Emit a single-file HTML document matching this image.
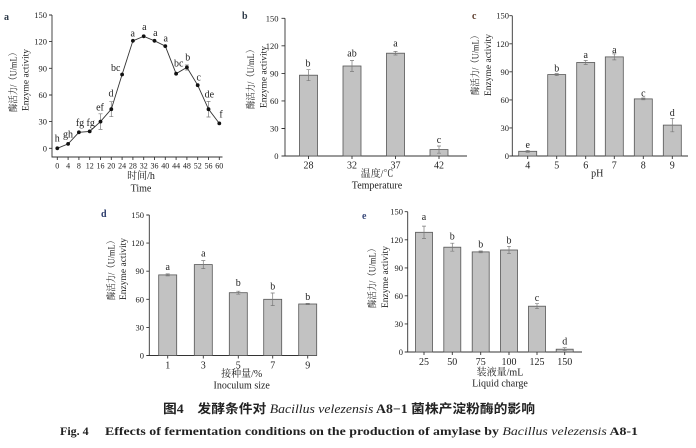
<!DOCTYPE html>
<html><head><meta charset="utf-8"><style>
html,body{margin:0;padding:0;background:#fff;}
svg{display:block;}
text{font-family:"Liberation Serif","Noto Serif CJK SC",serif;fill:#222;}
.cj{font-family:"Liberation Serif","Noto Serif CJK SC",serif;}
.ax{stroke:#333;stroke-width:0.9;fill:none;}
.bar{fill:#c2c2c2;stroke:#555;stroke-width:0.8;}
.er{stroke:#7a7a7a;stroke-width:0.7;fill:none;}
.t9{font-size:8.5px;}
.t10{font-size:10px;}
.yl{font-size:9.5px;}
.pl{font-size:10px;font-weight:bold;fill:#2e3a48;}
</style></head><body>
<svg width="696" height="448" viewBox="0 0 696 448" xmlns="http://www.w3.org/2000/svg">

<!-- ================= Panel a ================= -->
<text class="pl" x="4" y="20">a</text>
<path class="ax" d="M52,15 V157 H222.5"/>
<path class="ax" d="M49,148.3H52M49,121.6H52M49,95H52M49,68.3H52M49,41.6H52M49,15H52"/>
<g class="t9" text-anchor="end">
<text x="47" y="151.3">0</text><text x="47" y="124.6">30</text><text x="47" y="98">60</text>
<text x="47" y="71.3">90</text><text x="47" y="44.6">120</text><text x="47" y="18">150</text>
</g>
<path class="ax" d="M57.3,157V160M68.1,157V160M78.9,157V160M89.7,157V160M100.5,157V160M111.3,157V160M122.1,157V160M132.9,157V160M143.7,157V160M154.5,157V160M165.3,157V160M176.1,157V160M186.9,157V160M197.7,157V160M208.5,157V160M219.3,157V160"/>
<g class="t9" text-anchor="middle" style="font-size:8px">
<text x="57.3" y="168.5">0</text><text x="68.1" y="168.5">4</text><text x="78.9" y="168.5">8</text><text x="89.7" y="168.5">12</text>
<text x="100.5" y="168.5">16</text><text x="111.3" y="168.5">20</text><text x="122.1" y="168.5">24</text><text x="132.9" y="168.5">28</text>
<text x="143.7" y="168.5">32</text><text x="154.5" y="168.5">36</text><text x="165.3" y="168.5">40</text><text x="176.1" y="168.5">44</text>
<text x="186.9" y="168.5">48</text><text x="197.7" y="168.5">52</text><text x="208.5" y="168.5">56</text><text x="219.3" y="168.5">60</text>
</g>
<text class="t10 cj" x="141" y="179" text-anchor="middle">时间/h</text>
<text class="t10" x="141" y="191.5" text-anchor="middle">Time</text>
<text class="yl cj" transform="translate(16.5,80) rotate(-90)" text-anchor="middle" textLength="64" lengthAdjust="spacingAndGlyphs">酶活力/（U/mL）</text>
<text class="yl" transform="translate(28.5,80) rotate(-90)" text-anchor="middle">Enzyme activity</text>
<!-- error bars -->
<path class="er" d="M100.5,113.8V129.4M98.5,113.8H102.5M98.5,129.4H102.5
M111.3,101.7V116.7M109.3,101.7H113.3M109.3,116.7H113.3
M208.5,101.4V117M206.5,101.4H210.5M206.5,117H210.5
M186.9,65V70M184.9,65H188.9M184.9,70H188.9"/>
<polyline fill="none" stroke="#333" stroke-width="0.9" points="57.3,148.3 68.1,143.9 78.9,132.3 89.7,131.4 100.5,121.6 111.3,109.2 122.1,74.5 132.9,40.8 143.7,36.3 154.5,40.8 165.3,46.1 176.1,73.7 186.9,67.4 197.7,85.2 208.5,109.2 219.3,123.4"/>
<g fill="#111">
<circle cx="57.3" cy="148.3" r="1.9"/><circle cx="68.1" cy="143.9" r="1.9"/><circle cx="78.9" cy="132.3" r="1.9"/><circle cx="89.7" cy="131.4" r="1.9"/>
<circle cx="100.5" cy="121.6" r="1.9"/><circle cx="111.3" cy="109.2" r="1.9"/><circle cx="122.1" cy="74.5" r="1.9"/><circle cx="132.9" cy="40.8" r="1.9"/>
<circle cx="143.7" cy="36.3" r="1.9"/><circle cx="154.5" cy="40.8" r="1.9"/><circle cx="165.3" cy="46.1" r="1.9"/><circle cx="176.1" cy="73.7" r="1.9"/>
<circle cx="186.9" cy="67.4" r="1.9"/><circle cx="197.7" cy="85.2" r="1.9"/><circle cx="208.5" cy="109.2" r="1.9"/><circle cx="219.3" cy="123.4" r="1.9"/>
</g>
<g class="t10" text-anchor="middle">
<text x="57.3" y="141.5">h</text><text x="68" y="137.5">gh</text><text x="80" y="126">fg</text><text x="90.7" y="126">fg</text>
<text x="100" y="110.5">ef</text><text x="111" y="96.5">d</text><text x="115.7" y="71">bc</text><text x="132.7" y="36.5">a</text>
<text x="144.3" y="30">a</text><text x="155.3" y="36">a</text><text x="165.7" y="41.5">a</text><text x="178.7" y="66.5">bc</text>
<text x="187.7" y="60.5">b</text><text x="198.7" y="80.5">c</text><text x="209.3" y="97.5">de</text><text x="221" y="117.5">f</text>
</g>

<!-- ================= Panel b ================= -->
<text class="pl" x="242" y="19">b</text>
<path class="ax" d="M285,18.3V156H467"/>
<path class="ax" d="M281.5,156H285M281.5,128.5H285M281.5,100.9H285M281.5,73.4H285M281.5,45.8H285M281.5,18.3H285"/>
<g class="t9" text-anchor="end">
<text x="278.5" y="159">0</text><text x="278.5" y="131.5">30</text><text x="278.5" y="103.9">60</text>
<text x="278.5" y="76.4">90</text><text x="278.5" y="48.8">120</text><text x="278.5" y="21.3">150</text>
</g>
<rect class="bar" x="299.5" y="75.2" width="18" height="80.8"/>
<rect class="bar" x="343" y="66" width="18" height="90"/>
<rect class="bar" x="386.5" y="53.2" width="18" height="102.8"/>
<rect class="bar" x="430" y="149.6" width="18" height="6.4"/>
<path class="er" d="M308.5,69.7V80.7M306.5,69.7H310.5M306.5,80.7H310.5
M352,60.5V71.5M350,60.5H354M350,71.5H354
M395.5,51.4V55M393.5,51.4H397.5M393.5,55H397.5
M439,146V153.2M437,146H441M437,153.2H441"/>
<path class="ax" d="M308.5,156V159M352,156V159M395.5,156V159M439,156V159"/>
<g class="t10" text-anchor="middle">
<text x="308.5" y="168.5">28</text><text x="352" y="168.5">32</text><text x="395.5" y="168.5">37</text><text x="439" y="168.5">42</text>
<text x="308" y="66.5">b</text><text x="352" y="56.5">ab</text><text x="395.5" y="46.5">a</text><text x="439" y="143">c</text>
</g>
<text class="t10 cj" x="377" y="177" text-anchor="middle">温度/℃</text>
<text class="t10" x="377" y="188.5" text-anchor="middle">Temperature</text>
<text class="yl cj" transform="translate(254,77) rotate(-90)" text-anchor="middle" textLength="64" lengthAdjust="spacingAndGlyphs">酶活力/（U/mL）</text>
<text class="yl" transform="translate(266.5,77) rotate(-90)" text-anchor="middle">Enzyme activity</text>

<!-- ================= Panel c ================= -->
<text class="pl" x="472" y="19" style="fill:#5a3a2a">c</text>
<path class="ax" d="M512.3,15.7V156H688"/>
<path class="ax" d="M509.3,156H512.3M509.3,127.9H512.3M509.3,99.9H512.3M509.3,71.8H512.3M509.3,43.8H512.3M509.3,15.7H512.3"/>
<g class="t9" text-anchor="end">
<text x="509" y="159">0</text><text x="509" y="130.9">30</text><text x="509" y="102.9">60</text>
<text x="509" y="74.8">90</text><text x="509" y="46.8">120</text><text x="509" y="18.7">150</text>
</g>
<rect class="bar" x="518.7" y="151.3" width="18" height="4.7"/>
<rect class="bar" x="547.7" y="74.6" width="18" height="81.4"/>
<rect class="bar" x="576.7" y="62.5" width="18" height="93.5"/>
<rect class="bar" x="605.3" y="56.9" width="18" height="99.1"/>
<rect class="bar" x="634.3" y="98.9" width="18" height="57.1"/>
<rect class="bar" x="663.3" y="125.1" width="18" height="30.9"/>
<path class="er" d="M527.7,150.3V152.3M525.7,150.3H529.7M525.7,152.3H529.7
M556.7,73.6V75.6M554.7,73.6H558.7M554.7,75.6H558.7
M585.7,60.5V64.5M583.7,60.5H587.7M583.7,64.5H587.7
M614.3,53.9V59.9M612.3,53.9H616.3M612.3,59.9H616.3
M643.3,98V99.8M641.3,98H645.3M641.3,99.8H645.3
M672.3,118.4V131.8M670.3,118.4H674.3M670.3,131.8H674.3"/>
<path class="ax" d="M527.7,156V159M556.7,156V159M585.7,156V159M614.3,156V159M643.3,156V159M672.3,156V159"/>
<g class="t10" text-anchor="middle">
<text x="527.7" y="168.5">4</text><text x="556.7" y="168.5">5</text><text x="585.7" y="168.5">6</text>
<text x="614.3" y="168.5">7</text><text x="643.3" y="168.5">8</text><text x="672.3" y="168.5">9</text>
<text x="527.7" y="148">e</text><text x="556.7" y="71.5">b</text><text x="585.7" y="58">a</text>
<text x="614.3" y="53">a</text><text x="643.3" y="96.5">c</text><text x="672.3" y="116">d</text>
</g>
<text class="t10" x="597.3" y="176.5" text-anchor="middle">pH</text>
<text class="yl cj" transform="translate(478.5,63) rotate(-90)" text-anchor="middle" textLength="64" lengthAdjust="spacingAndGlyphs">酶活力/（U/mL）</text>
<text class="yl" transform="translate(491,65) rotate(-90)" text-anchor="middle">Enzyme activity</text>

<!-- ================= Panel d ================= -->
<text class="pl" x="101" y="217" style="fill:#2a3a6a">d</text>
<path class="ax" d="M149.3,215V355.5H317"/>
<path class="ax" d="M146.3,355.5H149.3M146.3,327.4H149.3M146.3,299.3H149.3M146.3,271.2H149.3M146.3,243.1H149.3M146.3,215H149.3"/>
<g class="t9" text-anchor="end">
<text x="144" y="358.5">0</text><text x="144" y="330.4">30</text><text x="144" y="302.3">60</text>
<text x="144" y="274.2">90</text><text x="144" y="246.1">120</text><text x="144" y="218">150</text>
</g>
<rect class="bar" x="158.7" y="274.9" width="18" height="80.6"/>
<rect class="bar" x="194.3" y="264.6" width="18" height="90.9"/>
<rect class="bar" x="229.3" y="292.7" width="18" height="62.8"/>
<rect class="bar" x="263.7" y="299.3" width="18" height="56.2"/>
<rect class="bar" x="298.7" y="304" width="18" height="51.5"/>
<path class="er" d="M167.7,273.9V275.9M165.7,273.9H169.7M165.7,275.9H169.7
M203.3,260.6V268.6M201.3,260.6H205.3M201.3,268.6H205.3
M238.3,291.2V294.2M236.3,291.2H240.3M236.3,294.2H240.3
M272.7,293V305.6M270.7,293H274.7M270.7,305.6H274.7
M307.7,303.4V304.6M305.7,303.4H309.7M305.7,304.6H309.7"/>
<path class="ax" d="M167.7,355.5V358.5M203.3,355.5V358.5M238.3,355.5V358.5M272.7,355.5V358.5M307.7,355.5V358.5"/>
<g class="t10" text-anchor="middle">
<text x="167.7" y="368.5">1</text><text x="203.3" y="368.5">3</text><text x="238.3" y="368.5">5</text>
<text x="272.7" y="368.5">7</text><text x="307.7" y="368.5">9</text>
<text x="167.7" y="270">a</text><text x="203.3" y="256.5">a</text><text x="238.3" y="286">b</text>
<text x="272.7" y="289.5">b</text><text x="307.7" y="300">b</text>
</g>
<text class="t10 cj" x="241.7" y="377" text-anchor="middle">接种量/%</text>
<text class="t10" x="241.7" y="388.5" text-anchor="middle">Inoculum size</text>
<text class="yl cj" transform="translate(114.5,268) rotate(-90)" text-anchor="middle" textLength="64" lengthAdjust="spacingAndGlyphs">酶活力/（U/mL）</text>
<text class="yl" transform="translate(126,269) rotate(-90)" text-anchor="middle">Enzyme activity</text>

<!-- ================= Panel e ================= -->
<text class="pl" x="362" y="219" style="fill:#3a4a7a">e</text>
<path class="ax" d="M407.7,211.7V352H582"/>
<path class="ax" d="M404.7,352H407.7M404.7,323.9H407.7M404.7,295.8H407.7M404.7,267.9H407.7M404.7,239.8H407.7M404.7,211.7H407.7"/>
<g class="t9" text-anchor="end">
<text x="403" y="355">0</text><text x="403" y="326.9">30</text><text x="403" y="298.8">60</text>
<text x="403" y="270.9">90</text><text x="403" y="242.8">120</text><text x="403" y="214.7">150</text>
</g>
<rect class="bar" x="415.5" y="232.3" width="17" height="119.7"/>
<rect class="bar" x="443.8" y="247.2" width="17" height="104.8"/>
<rect class="bar" x="472.2" y="251.9" width="17" height="100.1"/>
<rect class="bar" x="500.5" y="250" width="17" height="102"/>
<rect class="bar" x="528.5" y="306.2" width="17" height="45.8"/>
<rect class="bar" x="556.2" y="349.2" width="17" height="2.8"/>
<path class="er" d="M424,226.1V238.5M422,226.1H426M422,238.5H426
M452.3,243.2V251.2M450.3,243.2H454.3M450.3,251.2H454.3
M480.7,251V252.8M478.7,251H482.7M478.7,252.8H482.7
M509,246.3V253.7M507,246.3H511M507,253.7H511
M537,303.7V308.7M535,303.7H539M535,308.7H539
M564.7,347.7V350.7M562.7,347.7H566.7M562.7,350.7H566.7"/>
<path class="ax" d="M424,352V355M452.3,352V355M480.7,352V355M509,352V355M537,352V355M564.7,352V355"/>
<g class="t10" text-anchor="middle">
<text x="424" y="365">25</text><text x="452.3" y="365">50</text><text x="480.7" y="365">75</text>
<text x="509" y="365">100</text><text x="537" y="365">125</text><text x="564.7" y="365">150</text>
<text x="424" y="220">a</text><text x="452.3" y="239.5">b</text><text x="480.7" y="247.5">b</text>
<text x="509" y="243.5">b</text><text x="537" y="301">c</text><text x="564.7" y="344.5">d</text>
</g>
<text class="t10 cj" x="500" y="375.5" text-anchor="middle">装液量/mL</text>
<text class="t10" x="500" y="386.5" text-anchor="middle">Liquid charge</text>
<text class="yl cj" transform="translate(375.5,276) rotate(-90)" text-anchor="middle" textLength="64" lengthAdjust="spacingAndGlyphs">酶活力/（U/mL）</text>
<text class="yl" transform="translate(388,277) rotate(-90)" text-anchor="middle">Enzyme activity</text>

<!-- ================= Caption ================= -->
<text x="163" y="413" style="font-size:12.5px;font-weight:bold;font-family:'Liberation Serif','Noto Sans CJK SC',sans-serif;" textLength="372" lengthAdjust="spacingAndGlyphs">图4　发酵条件对 <tspan font-style="italic" font-weight="normal" style="font-family:'Liberation Serif',serif">Bacillus velezensis</tspan> A8−1 菌株产淀粉酶的影响</text>
<text x="60" y="435" style="font-size:12px;font-weight:bold;">Fig. 4</text>
<text x="105" y="435" style="font-size:12px;font-weight:bold;" textLength="533" lengthAdjust="spacingAndGlyphs">Effects of fermentation conditions on the production of amylase by <tspan font-style="italic" font-weight="normal">Bacillus velezensis</tspan> A8-1</text>
</svg>
</body></html>
